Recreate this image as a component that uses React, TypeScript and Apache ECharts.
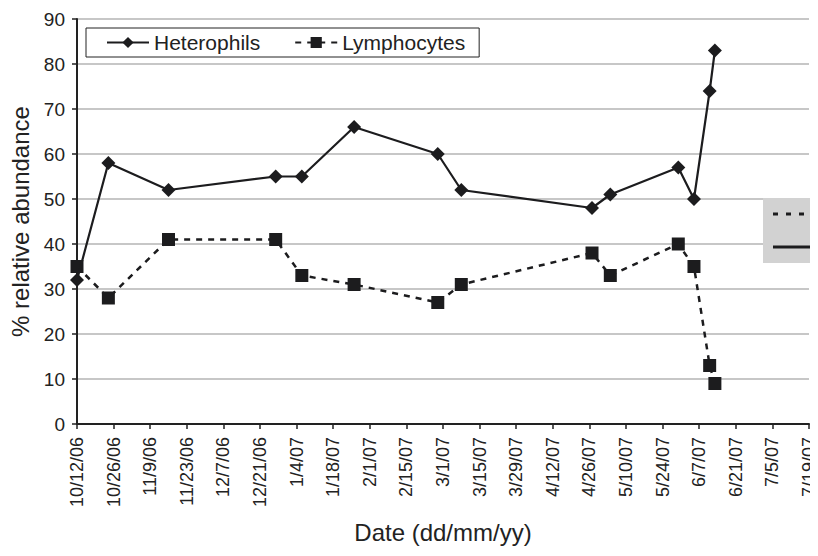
import React, { useEffect, useRef } from "react";
import * as echarts from "echarts";

const startDate = "2006-10-12";
const sampleDates = [
  "2006-10-12", "2006-10-24", "2006-11-16", "2006-12-27", "2007-01-06",
  "2007-01-26", "2007-02-27", "2007-03-08", "2007-04-27", "2007-05-04",
  "2007-05-30", "2007-06-05", "2007-06-11", "2007-06-13",
];
const heterophils = [32, 58, 52, 55, 55, 66, 60, 52, 48, 51, 57, 50, 74, 83];
const lymphocytes = [35, 28, 41, 41, 33, 31, 27, 31, 38, 33, 40, 35, 13, 9];
const xMaxDays = 280;
const xTickDays = 14;

const DAY = 86400000;
const parse = (s: string) => {
  const [y, m, d] = s.split("-").map(Number);
  return Date.UTC(y, m - 1, d);
};
const start = parse(startDate);
const offset = (s: string) => Math.round((parse(s) - start) / DAY);
const fmt = (days: number) => {
  const d = new Date(start + days * DAY);
  const yy = String(d.getUTCFullYear() % 100).padStart(2, "0");
  return `${d.getUTCMonth() + 1}/${d.getUTCDate()}/${yy}`;
};

const FONT = "'Liberation Sans', Arial, Helvetica, sans-serif";

export default function App() {
  const ref = useRef<HTMLDivElement>(null);
  useEffect(() => {
    if (!ref.current) return;
    const chart = echarts.init(ref.current, undefined, { renderer: "svg" });
    const hetData = sampleDates.map((d, i) => [offset(d), heterophils[i]]);
    const lymData = sampleDates.map((d, i) => [offset(d), lymphocytes[i]]);
    chart.setOption({
      animation: false,
      backgroundColor: "#ffffff",
      textStyle: { fontFamily: FONT },
      grid: { left: 76, right: 3, top: 19, bottom: 132, containLabel: false },
      legend: {
        left: 86,
        top: 28,
        orient: "horizontal",
        backgroundColor: "#ffffff",
        borderColor: "#222",
        borderWidth: 1,
        borderRadius: 0,
        padding: [4, 14, 4, 20],
        itemGap: 34,
        itemWidth: 42,
        itemHeight: 14,
        textStyle: { fontSize: 21, color: "#222", fontFamily: FONT },
        data: ["Heterophils", "Lymphocytes"],
      },
      xAxis: {
        type: "value",
        min: 0,
        max: xMaxDays,
        interval: xTickDays,
        name: "Date (dd/mm/yy)",
        nameLocation: "middle",
        nameGap: 96,
        nameTextStyle: { fontSize: 24, color: "#222", fontFamily: FONT },
        axisLine: { show: true, lineStyle: { color: "#222", width: 2 } },
        axisTick: { show: true, length: 5, lineStyle: { color: "#222", width: 1.5 } },
        axisLabel: {
          rotate: 90,
          fontSize: 18,
          color: "#222",
          margin: 13,
          formatter: (v: number) => fmt(v),
          showMinLabel: true,
          showMaxLabel: true,
        },
        splitLine: { show: false },
      },
      yAxis: {
        type: "value",
        min: 0,
        max: 90,
        interval: 10,
        name: "% relative abundance",
        nameLocation: "middle",
        nameGap: 45,
        nameTextStyle: { fontSize: 24, color: "#222", fontFamily: FONT },
        axisLine: { show: true, lineStyle: { color: "#222", width: 2 } },
        axisTick: { show: true, length: 5, lineStyle: { color: "#222", width: 1.5 } },
        axisLabel: { fontSize: 19, color: "#222", margin: 12 },
        splitLine: { show: true, lineStyle: { color: "#b4b4b4", width: 1.5 } },
      },
      series: [
        {
          name: "Heterophils",
          type: "line",
          data: hetData,
          symbol: "diamond",
          symbolSize: 14,
          itemStyle: { color: "#1c1c1e" },
          lineStyle: { color: "#1c1c1e", width: 2.2, type: "solid" },
          z: 3,
        },
        {
          name: "Lymphocytes",
          type: "line",
          data: lymData,
          symbol: "rect",
          symbolSize: 13,
          itemStyle: { color: "#1c1c1e" },
          lineStyle: { color: "#1c1c1e", width: 2.5, type: [6, 6] },
          z: 2,
        },
      ],
      graphic: [
        {
          type: "rect",
          shape: { x: 763, y: 198, width: 60, height: 65 },
          style: { fill: "#d2d2d2" },
          z: 10,
        },
        {
          type: "line",
          shape: { x1: 773, y1: 214, x2: 816, y2: 214 },
          style: { stroke: "#1c1c1e", lineWidth: 3, lineDash: [5, 8] },
          z: 11,
        },
        {
          type: "line",
          shape: { x1: 773, y1: 247, x2: 815, y2: 247 },
          style: { stroke: "#1c1c1e", lineWidth: 3 },
          z: 11,
        },
        {
          type: "line",
          shape: { x1: 815.5, y1: 19, x2: 815.5, y2: 424 },
          style: { stroke: "#666", lineWidth: 1.5 },
          z: 12,
        },
      ],
    });
    return () => chart.dispose();
  }, []);
  return <div ref={ref} style={{ width: 818, height: 556, margin: -8 }} />;
}
